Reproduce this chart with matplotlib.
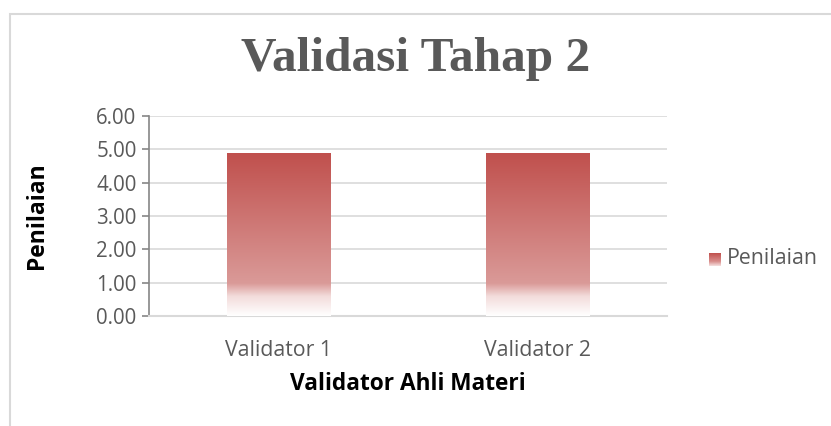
import matplotlib.pyplot as plt
import numpy as np
from matplotlib.colors import LinearSegmentedColormap
from matplotlib.patches import Rectangle

categories = ['Validator 1', 'Validator 2']
penilaian = [4.89, 4.89]
yticks = [0, 1, 2, 3, 4, 5, 6]

W, H = 831, 426
fig = plt.figure(figsize=(W / 100, H / 100), dpi=100)

# chart border (excel style)
fig.patches.append(Rectangle((10 / W, -0.1), 1.2, 1 - 14 / H + 0.1,
                             transform=fig.transFigure, fill=False,
                             edgecolor='#D9D9D9', linewidth=1.5))

ax = fig.add_axes([149 / W, 1 - 316 / H, (667 - 149) / W, (316 - 116) / H])

# red -> white gradient, top to bottom
grad = LinearSegmentedColormap.from_list(
    'g', [(0.0, '#FFFFFF'), (0.12, '#F3DCDB'), (0.2, '#DA9A98'),
          (1.0, '#C0504D')])

x = np.arange(len(categories))
bars = ax.bar(x, penilaian, width=0.4, color='none', edgecolor='none', zorder=3)
g = np.linspace(0, 1, 256).reshape(-1, 1)
for b in bars:
    x0, y0 = b.get_x(), b.get_y()
    im = ax.imshow(g, cmap=grad, aspect='auto', origin='lower',
                   extent=[x0, x0 + b.get_width(), y0, y0 + b.get_height()],
                   zorder=3)
    im.set_clip_path(b)

ax.set_xlim(-0.5, len(categories) - 0.5)
ax.set_ylim(0, 6)
ax.set_yticks(yticks)
ax.set_yticklabels(['%.2f' % v for v in yticks])
ax.set_xticks(x)
ax.set_xticklabels(categories)
ax.grid(axis='y', color='#D9D9D9', linewidth=1.2, zorder=0)
ax.set_axisbelow(True)

for s in ['top', 'right']:
    ax.spines[s].set_visible(False)
ax.spines['left'].set_color('#868686')
ax.spines['left'].set_linewidth(1.2)
ax.spines['bottom'].set_color('#D9D9D9')
ax.spines['bottom'].set_linewidth(1.5)
ax.tick_params(axis='y', colors='#868686', labelcolor='#595959',
               labelsize=14.8, length=5, width=1.2, pad=4)
ax.tick_params(axis='x', length=0, labelcolor='#595959', labelsize=15.3, pad=17)
for t in ax.get_yticklabels() + ax.get_xticklabels():
    t.set_fontfamily('Open Sans')

fig.text(37 / W, 1 - 216 / H, 'Penilaian', rotation=90, ha='center',
         va='center', fontsize=16.5, fontweight='bold', family='Open Sans')
fig.text(408 / W, 1 - 384 / H, 'Validator Ahli Materi', ha='center',
         va='center', fontsize=16.3, fontweight='bold', family='Open Sans')

fig.text(416 / W, 1 - 59 / H, 'Validasi Tahap 2', ha='center', va='center',
         fontsize=35.5, fontweight='bold', family='Liberation Serif',
         color='#595959')

# legend: small gradient square + label
lx, ly = 709, 259
lax = fig.add_axes([lx / W, 1 - (ly + 7) / H, 12 / W, 13 / H])
lax.imshow(g, cmap=LinearSegmentedColormap.from_list(
    'l', [(0.0, '#F6E2E1'), (0.35, '#D98F8D'), (1.0, '#C0504D')]),
    aspect='auto', origin='lower')
lax.set_axis_off()
fig.text((lx + 18) / W, 1 - ly / H, 'Penilaian', ha='left', va='center',
         fontsize=15.3, color='#595959', family='Open Sans')

fig.savefig('out.png', dpi=100)
